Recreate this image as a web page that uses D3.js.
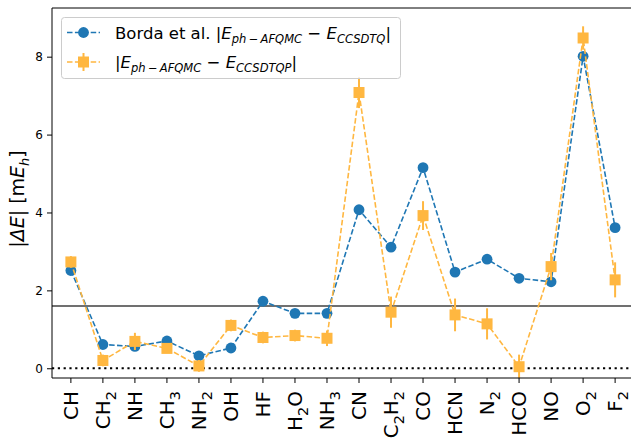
<!DOCTYPE html>
<html>
<head>
<meta charset="utf-8">
<script src="https://cdn.jsdelivr.net/npm/d3@7"></script>
<style>
  body { margin: 0; background: #fff; }
  text { font-family: 'DejaVu Sans', sans-serif; fill: #000; }
</style>
</head>
<body>
<script>
// molecules, "_n" marks a subscript digit
const molecules = ['CH', 'CH_2', 'NH', 'CH_3', 'NH_2', 'OH', 'HF', 'H_2O', 'NH_3',
    'CN', 'C_2H_2', 'CO', 'HCN', 'N_2', 'HCO', 'NO', 'O_2', 'F_2']
// Borda et al. |E_ph-AFQMC - E_CCSDTQ|  (mE_h)
const borda = [2.51, 0.61, 0.56, 0.70, 0.32, 0.52, 1.72, 1.41, 1.41,
    4.07, 3.11, 5.15, 2.47, 2.80, 2.31, 2.22, 8.01, 3.61]
// |E_ph-AFQMC - E_CCSDTQP|
const afqmc = [2.73, 0.20, 0.69, 0.51, 0.06, 1.10, 0.79, 0.84, 0.77,
    7.08, 1.44, 3.92, 1.37, 1.14, 0.04, 2.61, 8.48, 2.27]
const afqmcErr = [0.15, 0.15, 0.22, 0.12, 0.15, 0.15, 0.15, 0.15, 0.2,
    0.4, 0.4, 0.37, 0.42, 0.4, 0.31, 0.35, 0.3, 0.45]
const refLine = 1.6
const yTicks = [0, 2, 4, 6, 8]

const width = 631
const height = 443
const blue = '#1f77b4'
const orange = '#ffb740'

const svg = d3.select('body').append('svg')
    .attr('width', width)
    .attr('height', height)

const mLeft = 52, mRight = 634, mTop = 8, mBottom = 378

const x = d3.scaleLinear()
    .domain([-0.59, molecules.length - 1 + 0.59])
    .range([mLeft, mRight])

const y = d3.scaleLinear()
    .domain([-0.25, 9.25])
    .range([mBottom, mTop])

svg.append('clipPath').attr('id', 'plot')
    .append('rect')
    .attr('x', mLeft).attr('y', mTop)
    .attr('width', mRight - mLeft).attr('height', mBottom - mTop)

const plot = svg.append('g').attr('clip-path', 'url(#plot)')

// horizontal guides
plot.append('line')
    .attr('x1', mLeft).attr('x2', mRight)
    .attr('y1', y(0)).attr('y2', y(0))
    .attr('stroke', '#000')
    .attr('stroke-width', 2.2)
    .attr('stroke-dasharray', '2.2,3.6')

plot.append('line')
    .attr('x1', mLeft).attr('x2', mRight)
    .attr('y1', y(refLine)).attr('y2', y(refLine))
    .attr('stroke', '#404040')
    .attr('stroke-width', 1.6)

const line = d3.line()
    .x((d, i) => x(i))
    .y(d => y(d))

// Borda series
plot.append('path')
    .datum(borda)
    .attr('d', line)
    .attr('fill', 'none')
    .attr('stroke', blue)
    .attr('stroke-width', 1.6)
    .attr('stroke-dasharray', '5.5,2.4')

plot.selectAll('circle.borda')
    .data(borda)
    .enter()
    .append('circle')
    .attr('class', 'borda')
    .attr('cx', (d, i) => x(i))
    .attr('cy', d => y(d))
    .attr('r', 5.4)
    .attr('fill', blue)

// AFQMC vs CCSDTQP series
plot.append('path')
    .datum(afqmc)
    .attr('d', line)
    .attr('fill', 'none')
    .attr('stroke', orange)
    .attr('stroke-width', 1.6)
    .attr('stroke-dasharray', '5.5,2.4')

plot.selectAll('line.err')
    .data(afqmc)
    .enter()
    .append('line')
    .attr('class', 'err')
    .attr('x1', (d, i) => x(i))
    .attr('x2', (d, i) => x(i))
    .attr('y1', (d, i) => y(d - afqmcErr[i]))
    .attr('y2', (d, i) => y(d + afqmcErr[i]))
    .attr('stroke', orange)
    .attr('stroke-width', 2)

plot.selectAll('rect.sq')
    .data(afqmc)
    .enter()
    .append('rect')
    .attr('class', 'sq')
    .attr('x', (d, i) => x(i) - 5.5)
    .attr('y', d => y(d) - 5.5)
    .attr('width', 11)
    .attr('height', 11)
    .attr('fill', orange)

// spines
const spine = svg.append('g')
    .attr('stroke', '#000')
    .attr('stroke-width', 1)
spine.append('line').attr('x1', mLeft).attr('x2', mLeft).attr('y1', mTop).attr('y2', mBottom)
spine.append('line').attr('x1', mLeft).attr('x2', mRight).attr('y1', mTop).attr('y2', mTop)
spine.append('line').attr('x1', mLeft).attr('x2', mRight).attr('y1', mBottom).attr('y2', mBottom)

// y axis
const yAxis = svg.append('g')
    .attr('transform', `translate(${mLeft},0)`)
    .call(d3.axisLeft(y).tickValues(yTicks).tickSize(5).tickPadding(4))
yAxis.select('.domain').remove()
yAxis.selectAll('text')
    .style('font-size', '12px')
    .style('font-family', "'DejaVu Sans', sans-serif")
    .attr('fill', '#000')

// x axis
const xAxis = svg.append('g')
    .attr('transform', `translate(0,${mBottom})`)
xAxis.selectAll('line')
    .data(molecules)
    .enter()
    .append('line')
    .attr('x1', (d, i) => x(i))
    .attr('x2', (d, i) => x(i))
    .attr('y1', 0)
    .attr('y2', 5)
    .attr('stroke', '#000')

// chemical formula with subscript digits
function addChem(sel, label, size) {
    const shift = size * 0.28
    let down = false
    label.split(/(_\d)/).filter(s => s.length).forEach(part => {
        const ts = sel.append('tspan')
        if (part[0] === '_') {
            ts.text(part.slice(1))
                .attr('dy', shift)
                .style('font-size', (size * 0.72) + 'px')
            down = true
        } else {
            ts.text(part)
            if (down) { ts.attr('dy', -shift); down = false }
        }
    })
}

const xFont = 20
molecules.forEach((m, i) => {
    const t = xAxis.append('text')
        .attr('transform', `translate(${x(i)},${13}) rotate(-90)`)
        .attr('text-anchor', 'end')
        .attr('dy', '0.36em')
        .style('font-size', xFont + 'px')
    addChem(t, m, xFont)
})

// y label
const yl = svg.append('text')
    .attr('transform', `translate(24,${(mTop + mBottom) / 2 + 6}) rotate(-90)`)
    .attr('text-anchor', 'middle')
    .style('font-size', '19px')
yl.append('tspan').text('|')
yl.append('tspan').text('\u0394E').style('font-style', 'italic')
yl.append('tspan').text('| [m')
yl.append('tspan').text('E').style('font-style', 'italic')
yl.append('tspan').text('h').style('font-style', 'italic')
    .attr('dy', 4.5).style('font-size', '13px')
yl.append('tspan').text(']').attr('dy', -4.5)

// legend
const legend = svg.append('g')
legend.append('rect')
    .attr('x', 61.5).attr('y', 17.5)
    .attr('width', 339).attr('height', 61)
    .attr('rx', 3)
    .attr('fill', '#fff').attr('fill-opacity', 0.8)
    .attr('stroke', '#cccccc')

const entries = [
    { color: blue, shape: 'circle', y: 32.5,
      parts: [['Borda et al. |', 0], ['E', 1], ['ph\u2009\u2212\u2009AFQMC', 2], [' \u2212 ', 0], ['E', 1], ['CCSDTQ', 2], ['|', 0]] },
    { color: orange, shape: 'square', y: 62,
      parts: [['|', 0], ['E', 1], ['ph\u2009\u2212\u2009AFQMC', 2], [' \u2212 ', 0], ['E', 1], ['CCSDTQP', 2], ['|', 0]] }
]

entries.forEach(e => {
    legend.append('line')
        .attr('x1', 67).attr('x2', 100)
        .attr('y1', e.y).attr('y2', e.y)
        .attr('stroke', e.color)
        .attr('stroke-width', 1.6)
        .attr('stroke-dasharray', '5.5,2.4')
    if (e.shape === 'circle') {
        legend.append('circle')
            .attr('cx', 83.5).attr('cy', e.y).attr('r', 5.4)
            .attr('fill', e.color)
    } else {
        legend.append('line')
            .attr('x1', 83.5).attr('x2', 83.5)
            .attr('y1', e.y - 9).attr('y2', e.y + 9)
            .attr('stroke', e.color).attr('stroke-width', 2)
        legend.append('rect')
            .attr('x', 78).attr('y', e.y - 5.5)
            .attr('width', 11).attr('height', 11)
            .attr('fill', e.color)
    }
    const t = legend.append('text')
        .attr('x', 115)
        .attr('y', e.y + 6)
        .style('font-size', '16.5px')
    let shifted = false
    e.parts.forEach(([s, kind]) => {
        const ts = t.append('tspan').text(s)
        if (kind >= 1) ts.style('font-style', 'italic')
        if (kind === 2) {
            ts.style('font-size', '11.5px').attr('dy', 4)
            shifted = true
        } else if (shifted) {
            ts.attr('dy', -4)
            shifted = false
        }
    })
})
</script>
</body>
</html>
